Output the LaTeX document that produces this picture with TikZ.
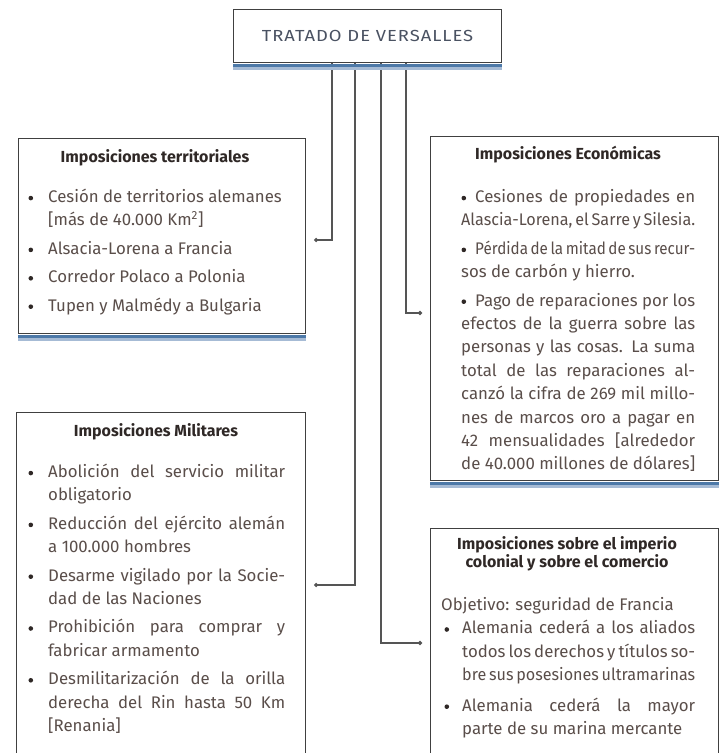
\documentclass[tikz,border=0pt]{standalone}
\usepackage{fontspec}
\setmainfont{Fira Sans}
\newfontfamily\titlefont[FakeStretch=1.15,LetterSpace=6]{Fira Sans}
\usetikzlibrary{arrows.meta,calc}
\definecolor{boxline}{HTML}{404040}
\definecolor{connc}{HTML}{555555}
\definecolor{shadowA}{HTML}{4D79A8}
\definecolor{shadowB}{HTML}{A6BBD5}
\definecolor{txtc}{HTML}{5A4E4A}
\definecolor{headc}{HTML}{2F2826}
\definecolor{titlec}{HTML}{4A5262}
\newcommand\mybul{\raisebox{2.2pt}{\tikz\fill[headc] (0,0) circle (2.3pt);}}
\newcommand\Bul[1]{\makebox[#1][l]{\hspace{0.3pt}\mybul}}
\newcommand\Jl[2]{\setbox0\hbox{#2}%
  \ifdim\wd0>#1\relax
    \setbox0\hbox{\spaceskip=0.17em #2}%
    \ifdim\wd0>#1\relax
      \resizebox{#1}{\height}{\spaceskip=0.17em #2}%
    \else
      \makebox[#1][s]{\spaceskip=0.17em plus 1em #2}%
    \fi
  \else\makebox[#1][s]{#2}\fi}
\begin{document}
\begin{tikzpicture}[x=1pt,y=-1pt,
  box/.style={draw=boxline, line width=1.1pt, fill=white, inner sep=0pt, anchor=north west},
  conn/.style={draw=connc, line width=1.6pt, -{Circle[length=4pt]}, shorten >=8pt},
  head/.style={font=\fontsize{16}{15.7}\selectfont\bfseries, text=headc, inner sep=0pt, align=center},
  body/.style={font=\fontsize{16.8}{23.4}\selectfont, text=txtc, inner sep=0pt, anchor=north west, align=left}]
\useasboundingbox (0,0) rectangle (722,753);
\clip (0,0) rectangle (722,753);
\fill[white] (0,0) rectangle (722,753);

% boxes
\node[box, minimum width=268pt, minimum height=53pt, font=\titlefont\fontsize{16}{18}\selectfont, text=titlec] (btop) at (233,9) {TRATADO DE VERSALLES};
\node[box, minimum width=287pt, minimum height=195pt] (bterr) at (18,138) {};
\node[box, minimum width=288pt, minimum height=344pt] (beco) at (430,136) {};
\node[box, minimum width=289pt, minimum height=360pt] (bmil) at (16,412) {};
\node[box, minimum width=288pt, minimum height=240pt] (bcol) at (430,528) {};

% connectors
\coordinate (k1) at (332,240);
\coordinate (k2) at (355,585);
\coordinate (k3) at (381,643);
\coordinate (k4) at (406,313);
\draw[conn] (btop.south -| k1) |- (bterr.east |- k1);
\draw[conn] (btop.south -| k2) |- (bmil.east |- k2);
\draw[conn] (btop.south -| k3) |- (bcol.west |- k3);
\draw[conn] (btop.south -| k4) |- (beco.west |- k4);

% shadows under boxes
\foreach \b in {btop,bterr,beco}{
  \fill[shadowB] ($(\b.south west)+(0,0.55)$) rectangle ($(\b.south east)+(0,6.5)$);
  \fill[shadowA] ($(\b.south west)+(0,0.55)$) rectangle ($(\b.south east)+(0,3.8)$);
}

% headings
\node[head] (hterr) at (155,158) {Imposiciones territoriales};
\node[head] (heco) at (568,155) {Imposiciones Económicas};
\node[head] (hmil) at (156,432) {Imposiciones Militares};
\node[head] (hcol) at (567,554) {Imposiciones sobre el imperio\\colonial y sobre el comercio};

% bodies
\node[body] (tterr) at (28,186) {\strut\Bul{20pt}Cesión de territorios alemanes\\
\hspace*{20pt}[más de 40.000 Km\textsuperscript{2}]\\[5pt]
\Bul{20pt}Alsacia-Lorena a Francia\\[5pt]
\Bul{20pt}Corredor Polaco a Polonia\\[5pt]
\Bul{20pt}Tupen y Malmédy a Bulgaria};

\node[body] (teco) at (461,186) {\strut\Bul{14pt}\Jl{220pt}{Cesiones de propiedades en}\\
\Jl{234pt}{Alascia-Lorena, el Sarre y Silesia.}\\[5pt]
\Bul{14pt}\Jl{220pt}{Pérdida de la mitad de sus recur-}\\
sos de carbón y hierro.\\[5pt]
\Bul{14pt}\Jl{220pt}{Pago de reparaciones por los}\\
\Jl{234pt}{efectos de la guerra sobre las}\\
\Jl{234pt}{personas y las cosas. La suma}\\
\Jl{234pt}{total de las reparaciones al-}\\
\Jl{234pt}{canzó la cifra de 269 mil millo-}\\
\Jl{234pt}{nes de marcos oro a pagar en}\\
\Jl{234pt}{42 mensualidades [alrededor}\\
\Jl{234pt}{de 40.000 millones de dólares]}};

\node[body] (tmil) at (28,461) {\strut\Bul{20pt}\Jl{237pt}{Abolición del servicio militar}\\
\hspace*{20pt}obligatorio\\[5pt]
\Bul{20pt}\Jl{237pt}{Reducción del ejército alemán}\\
\hspace*{20pt}a 100.000 hombres\\[5pt]
\Bul{20pt}\Jl{237pt}{Desarme vigilado por la Socie-}\\
\hspace*{20pt}dad de las Naciones\\[5pt]
\Bul{20pt}\Jl{237pt}{Prohibición para comprar y}\\
\hspace*{20pt}fabricar armamento\\[5pt]
\Bul{20pt}\Jl{237pt}{Desmilitarización de la orilla}\\
\hspace*{20pt}\Jl{237pt}{derecha del Rin hasta 50 Km}\\
\hspace*{20pt}[Renania]};

\node[body] (tcol) at (441,594) {\strut Objetivo: seguridad de Francia\\
\hspace*{3pt}\Bul{18pt}\Jl{233pt}{Alemania cederá a los aliados}\\
\hspace*{21pt}\Jl{233pt}{todos los derechos y títulos so-}\\
\hspace*{21pt}\Jl{233pt}{bre sus posesiones ultramarinas}\\[7pt]
\hspace*{3pt}\Bul{18pt}\Jl{233pt}{Alemania cederá la mayor}\\
\hspace*{21pt}parte de su marina mercante};
\end{tikzpicture}
\end{document}
